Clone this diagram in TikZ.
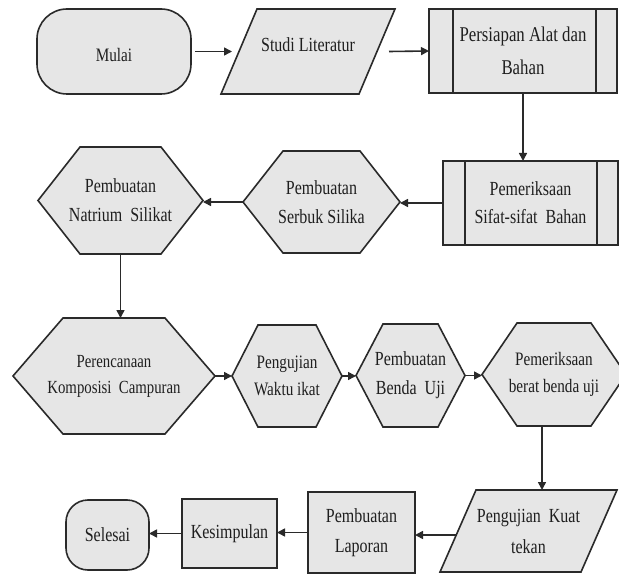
\documentclass[tikz,border=0pt]{standalone}
\usepackage{fontspec}
\setmainfont{Liberation Serif}[FakeStretch=0.8]
\usetikzlibrary{arrows.meta,backgrounds}
\definecolor{fillg}{HTML}{E6E6E6}
\definecolor{edgec}{HTML}{2A2A2A}
\newcommand\fs[2]{\fontsize{#1}{#2}\selectfont}
% hexagon outline around a named node: name, indent
\newcommand\hexshape[2]{\draw[shp] (#1.west) -- ([xshift=#2]#1.north west) -- ([xshift=-#2]#1.north east) -- (#1.east) -- ([xshift=-#2]#1.south east) -- ([xshift=#2]#1.south west) -- cycle;}
% parallelogram: name, slant
\newcommand\parashape[2]{\draw[shp] (#1.south west) -- ([xshift=#2]#1.north west) -- (#1.north east) -- ([xshift=-#2]#1.south east) -- cycle;}
% predefined process: name, left strip, right strip
\newcommand\procshape[3]{\draw[shp] (#1.south west) rectangle (#1.north east);
  \draw[shp] ([xshift=#2]#1.north west) -- ([xshift=#2]#1.south west);
  \draw[shp] ([xshift=-#3]#1.north east) -- ([xshift=-#3]#1.south east);}
\begin{document}
\begin{tikzpicture}[x=1pt,y=-1pt,
  base/.style={draw=none, inner sep=0pt, outer sep=0pt, align=center, font=\fs{20}{29}, text=black!88},
  shp/.style={draw=edgec, line width=1.6pt, fill=fillg},
  arr/.style={draw=edgec, line width=1.6pt, -{Triangle[length=8pt,width=8pt]}}]
\useasboundingbox (0,0) rectangle (619,575);
\clip (0,0) rectangle (619,575);

\node[base, minimum width=154pt, minimum height=85pt, text height=20pt, font=\fs{19}{29}] (mulai) at (114,51.5) {Mulai};
\node[base, minimum width=174pt, minimum height=85pt, text depth=13pt] (studi) at (308,51.5) {Studi Literatur};
\node[base, minimum width=188pt, minimum height=84pt, font=\fs{21}{33}] (persiapan) at (523,51) {Persiapan Alat dan\\Bahan};
\node[base, minimum width=175pt, minimum height=84pt, font=\fs{20}{28}] (pemsifat) at (530.5,203) {Pemeriksaan\\Sifat-sifat\ \ Bahan};
\node[base, minimum width=157pt, minimum height=102pt] (serbuk) at (321.5,202) {Pembuatan\\Serbuk Silika};
\node[base, minimum width=165pt, minimum height=107pt] (natrium) at (120.5,200.5) {Pembuatan\\Natrium\ \ Silikat};
\node[base, minimum width=202pt, minimum height=116pt, font=\fs{18.5}{26}] (rencana) at (114,376) {Perencanaan\\Komposisi\ \ Campuran};
\node[base, minimum width=110pt, minimum height=102pt, font=\fs{19}{27}] (waktu) at (287,376) {Pengujian\\Waktu ikat};
\node[base, minimum width=109pt, minimum height=103pt] (benda) at (410.5,375.5) {Pembuatan\\Benda\ \ Uji};
\node[base, minimum width=144pt, minimum height=103pt, font=\fs{19}{27}] (berat) at (554,374.5) {Pemeriksaan\\berat benda uji};
\node[base, minimum width=177pt, minimum height=82pt, font=\fs{20}{31}] (kuat) at (528.5,531) {Pengujian\ \ Kuat\\tekan};
\node[base, minimum width=107pt, minimum height=81pt, font=\fs{20}{30}] (laporan) at (361.5,532.5) {Pembuatan\\Laporan};
\node[base, minimum width=95pt, minimum height=69pt] (kesim) at (229.5,533.5) {Kesimpulan};
\node[base, minimum width=83pt, minimum height=70pt] (selesai) at (107.5,535) {Selesai};

\begin{scope}[on background layer]
  \draw[shp, rounded corners=30pt] (mulai.south west) rectangle (mulai.north east);
  \parashape{studi}{36pt}
  \procshape{persiapan}{24pt}{21pt}
  \procshape{pemsifat}{22pt}{21pt}
  \hexshape{serbuk}{40pt}
  \hexshape{natrium}{42pt}
  \hexshape{rencana}{50pt}
  \hexshape{waktu}{26pt}
  \hexshape{benda}{27pt}
  \hexshape{berat}{35pt}
  \parashape{kuat}{36pt}
  \draw[shp] (laporan.south west) rectangle (laporan.north east);
  \draw[shp] (kesim.south west) rectangle (kesim.north east);
  \draw[shp, rounded corners=22pt] (selesai.south west) rectangle (selesai.north east);
\end{scope}

\coordinate (kuatL) at ([xshift=16pt,yshift=-4pt]kuat.west);
\draw[arr] ([xshift=4pt]mulai.east) -- ([xshift=11pt]studi.west);
\draw[arr] ([xshift=-6pt]studi.east) -- (persiapan.west);
\draw[arr] (persiapan.south) -- (persiapan.south |- pemsifat.north);
\draw[arr] (pemsifat.west) -- (pemsifat.west -| serbuk.east);
\draw[arr] (serbuk.west) -- (serbuk.west -| natrium.east);
\draw[arr] (natrium.south) -- (natrium.south |- rencana.north);
\draw[arr] (rencana.east) -- (rencana.east -| waktu.west);
\draw[arr] (waktu.east) -- (waktu.east -| benda.west);
\draw[arr] (benda.east) -- (benda.east -| berat.west);
\draw[arr] ([xshift=-12pt]berat.south) -- ([xshift=-12pt]berat.south |- kuat.north);
\draw[arr] (kuatL) -- (kuatL -| laporan.east);
\draw[arr] (laporan.west) -- (laporan.west -| kesim.east);
\draw[arr] (kesim.west) -- (kesim.west -| selesai.east);
\end{tikzpicture}
\end{document}
